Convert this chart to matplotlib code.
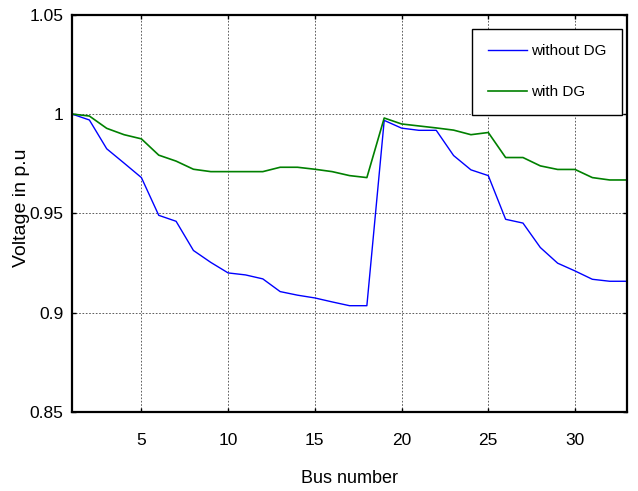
import matplotlib
matplotlib.use("Agg")
import matplotlib.pyplot as plt
from matplotlib.ticker import FuncFormatter

bus = list(range(1, 34))
without_dg = [1.0, 0.997, 0.9825, 0.9753, 0.968, 0.949, 0.946, 0.9313, 0.9253, 0.920,
              0.919, 0.917, 0.9106, 0.9088, 0.9074, 0.9054, 0.9035, 0.9035, 0.9968, 0.9929,
              0.9918, 0.9918, 0.9791, 0.9719, 0.969, 0.947, 0.9451, 0.9328, 0.9249, 0.921,
              0.9168, 0.9158, 0.9158]
with_dg = [1.0, 0.999, 0.9928, 0.9896, 0.9875, 0.9793, 0.9763, 0.9722, 0.971, 0.971,
           0.971, 0.971, 0.9732, 0.9732, 0.9722, 0.971, 0.969, 0.968, 0.998, 0.995,
           0.994, 0.993, 0.9919, 0.9896, 0.9907, 0.9781, 0.9781, 0.9739, 0.9721, 0.9721,
           0.968, 0.9668, 0.9668]
x_ticks = [5, 10, 15, 20, 25, 30]
y_ticks = [0.85, 0.9, 0.95, 1.0, 1.05]

font = "Liberation Sans"
tick_fs = 12.5

fig = plt.figure(figsize=(6.38, 4.91), dpi=100)
ax = fig.add_axes([0.1129, 0.161, 0.8699, 0.809])

ax.plot(bus, without_dg, color=(0, 0, 1), lw=1.0, label="without DG")
ax.plot(bus, with_dg, color=(0, 0.5, 0), lw=1.2, label="with DG")

ax.set_xlim(1, 33)
ax.set_ylim(0.85, 1.05)
ax.set_xticks(x_ticks)
ax.set_yticks(y_ticks)
ax.yaxis.set_major_formatter(FuncFormatter(lambda v, p: ("%g" % round(v, 4))))
ax.tick_params(direction="in", length=3, width=1, top=True, right=True,
               labelsize=tick_fs, labelfontfamily=font)
ax.tick_params(axis="x", pad=15)
ax.tick_params(axis="y", pad=6)
ax.grid(True, color="#444444", linestyle=(0, (2, 2)), lw=0.6)
for s in ax.spines.values():
    s.set_linewidth(1.6)

ax.set_xlabel("Bus number", fontfamily=font, fontsize=13, labelpad=16)
ax.set_ylabel("Voltage in p.u", fontfamily=font, fontsize=14)
ax.yaxis.set_label_coords(-0.076, 0.515)

leg = ax.legend(loc="upper right", bbox_to_anchor=(0.991, 0.965), frameon=True,
                fancybox=False, framealpha=1, edgecolor="black",
                prop={"family": font, "size": 11},
                handlelength=2.6, handletextpad=0.26, labelspacing=1.8,
                borderpad=1.0, borderaxespad=0)
leg.get_frame().set_linewidth(1.0)

fig.savefig("out.png", dpi=100)
